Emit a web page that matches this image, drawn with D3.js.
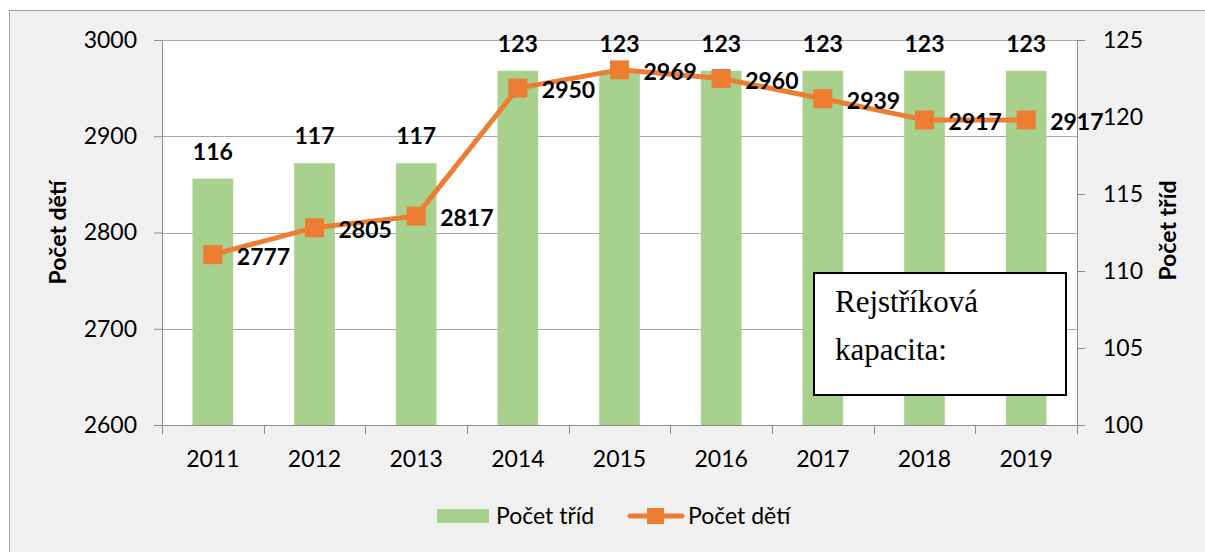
<!DOCTYPE html>
<html>
<head>
<meta charset="utf-8">
<script src="https://cdn.jsdelivr.net/npm/d3@7"></script>
<style>
  body { margin: 0; background: #ffffff; }
  svg text { font-family: Lato, "Open Sans", sans-serif; }
</style>
</head>
<body>
<svg id="drawing_region"></svg>
<script>
const years = ['2011', '2012', '2013', '2014', '2015', '2016', '2017', '2018', '2019'];
const classes = [116, 117, 117, 123, 123, 123, 123, 123, 123];
const children = [2777, 2805, 2817, 2950, 2969, 2960, 2939, 2917, 2917];
const leftTicks = [2600, 2700, 2800, 2900, 3000];
const rightTicks = [100, 105, 110, 115, 120, 125];

const width = 1205, height = 552;
const margin = { left: 162, right: 128, top: 40, bottom: 127 };
const innerW = width - margin.left - margin.right;
const innerH = height - margin.top - margin.bottom;
const fs = '23px';

const svg = d3.select('#drawing_region')
    .attr('width', width)
    .attr('height', height);

// chart frame
svg.append('rect')
    .attr('x', 9.5).attr('y', 10.5)
    .attr('width', width).attr('height', height)
    .attr('fill', '#f0f0f0')
    .attr('stroke', '#a0a0a0');

const g = svg.append('g')
    .attr('transform', `translate(${margin.left}, ${margin.top})`);

g.append('rect')
    .attr('width', innerW).attr('height', innerH)
    .attr('fill', '#ffffff');

const x = d3.scaleBand().domain(years).range([0, innerW]).padding(0);
const yLeft = d3.scaleLinear().domain([2600, 3000]).range([innerH, 0]);
const yRight = d3.scaleLinear().domain([100, 125]).range([innerH, 0]);

// gridlines
g.append('g')
    .selectAll('line')
    .data(leftTicks)
    .enter()
    .append('line')
    .attr('x1', 0).attr('x2', innerW)
    .attr('y1', d => Math.round(yLeft(d)) + 0.5)
    .attr('y2', d => Math.round(yLeft(d)) + 0.5)
    .attr('stroke', '#a6a6a6')
    .attr('stroke-width', 1);

// bars
const barW = x.bandwidth() * 0.4;
g.selectAll('.bar')
    .data(classes)
    .enter()
    .append('rect')
    .attr('class', 'bar')
    .attr('x', (d, i) => x(years[i]) + (x.bandwidth() - barW) / 2)
    .attr('y', d => yRight(d))
    .attr('width', barW)
    .attr('height', d => innerH - yRight(d))
    .attr('fill', '#a9d18e');

// axes
const axisColor = '#8c8c8c';
const styleAxis = sel => {
    sel.select('.domain').attr('stroke', axisColor);
    sel.selectAll('.tick line').attr('stroke', axisColor);
    sel.selectAll('.tick text')
        .attr('fill', '#000')
        .style('font-size', fs)
        .style('font-family', 'Lato, sans-serif');
};

g.append('g')
    .call(d3.axisLeft(yLeft).tickValues(leftTicks).tickFormat(d3.format('d'))
        .tickSize(8).tickSizeOuter(0).tickPadding(17))
    .call(styleAxis);

g.append('g')
    .attr('transform', `translate(${innerW}, 0)`)
    .call(d3.axisRight(yRight).tickValues(rightTicks).tickSize(8).tickSizeOuter(0).tickPadding(18))
    .call(styleAxis);

const xAxis = g.append('g')
    .attr('transform', `translate(0, ${innerH})`)
    .call(d3.axisBottom(x).tickSize(0).tickPadding(26))
    .call(styleAxis);
xAxis.select('.domain').attr('d', `M0.5,0.5H${innerW + 0.5}`);
xAxis.selectAll('.boundary')
    .data(d3.range(years.length + 1))
    .enter()
    .append('line')
    .attr('class', 'boundary')
    .attr('x1', i => Math.round(i * x.step()) + 0.5)
    .attr('x2', i => Math.round(i * x.step()) + 0.5)
    .attr('y1', 0).attr('y2', 9)
    .attr('stroke', axisColor);

// bar labels
g.selectAll('.barLabel')
    .data(classes)
    .enter()
    .append('text')
    .attr('x', (d, i) => x(years[i]) + x.bandwidth() / 2)
    .attr('y', d => yRight(d) - 19)
    .attr('text-anchor', 'middle')
    .style('font-size', fs)
    .style('font-weight', 'bold')
    .text(d => d);

// line
const cx = i => x(years[i]) + x.bandwidth() / 2;
const line = d3.line()
    .x((d, i) => cx(i))
    .y(d => yLeft(d));

g.append('path')
    .datum(children)
    .attr('d', line)
    .attr('fill', 'none')
    .attr('stroke', '#ed7d31')
    .attr('stroke-width', 5)
    .attr('stroke-linejoin', 'round');

const mk = 19;
g.selectAll('.marker')
    .data(children)
    .enter()
    .append('rect')
    .attr('x', (d, i) => cx(i) - mk / 2)
    .attr('y', d => yLeft(d) - mk / 2)
    .attr('width', mk).attr('height', mk)
    .attr('fill', '#ed7d31');

g.selectAll('.lineLabel')
    .data(children)
    .enter()
    .append('text')
    .attr('x', (d, i) => cx(i) + 24)
    .attr('y', d => yLeft(d) + 10)
    .style('font-size', fs)
    .style('font-weight', 'bold')
    .text(d => d);

// axis titles
svg.append('text')
    .attr('transform', `translate(66, ${margin.top + innerH / 2}) rotate(-90)`)
    .attr('text-anchor', 'middle')
    .style('font-size', fs)
    .style('font-weight', 'bold')
    .text('Počet dětí');

svg.append('text')
    .attr('transform', `translate(1176, ${margin.top + innerH / 2 - 2}) rotate(-90)`)
    .attr('text-anchor', 'middle')
    .style('font-size', fs)
    .style('font-weight', 'bold')
    .text('Počet tříd');

// text box
svg.append('rect')
    .attr('x', 814).attr('y', 273)
    .attr('width', 252).attr('height', 122)
    .attr('fill', '#ffffff')
    .attr('stroke', '#000')
    .attr('stroke-width', 2);

svg.append('text')
    .attr('x', 835).attr('y', 312)
    .style('font-family', '"Liberation Serif", serif')
    .style('font-size', '31px')
    .text('Rejstříková');

svg.append('text')
    .attr('x', 835).attr('y', 360)
    .style('font-family', '"Liberation Serif", serif')
    .style('font-size', '31px')
    .text('kapacita:');

// legend
const legend = svg.append('g');
legend.append('rect')
    .attr('x', 437).attr('y', 509)
    .attr('width', 52).attr('height', 14)
    .attr('fill', '#a9d18e');
legend.append('text')
    .attr('x', 496).attr('y', 524)
    .style('font-size', fs)
    .text('Počet tříd');

legend.append('line')
    .attr('x1', 630).attr('x2', 682)
    .attr('y1', 516).attr('y2', 516)
    .attr('stroke', '#ed7d31')
    .attr('stroke-width', 5)
    .attr('stroke-linecap', 'round');
legend.append('rect')
    .attr('x', 647).attr('y', 508)
    .attr('width', 17).attr('height', 16)
    .attr('fill', '#ed7d31');
legend.append('text')
    .attr('x', 688).attr('y', 524)
    .style('font-size', fs)
    .text('Počet dětí');
</script>
</body>
</html>
